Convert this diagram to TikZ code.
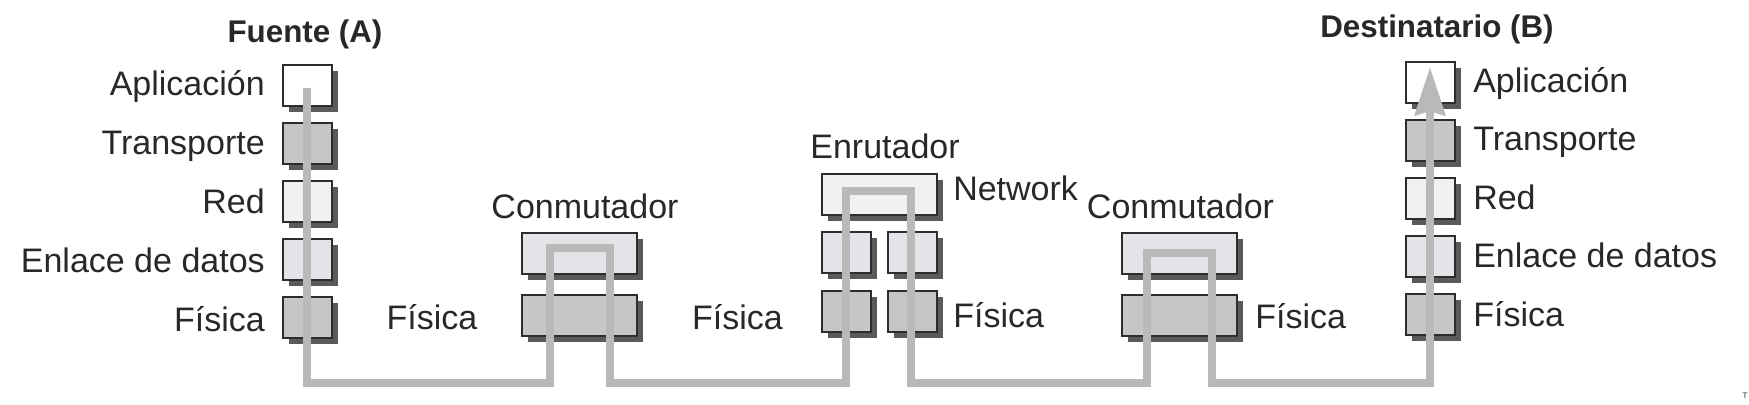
\documentclass[tikz,border=0pt]{standalone}
\usepackage{fontspec}
\setmainfont{Liberation Sans}
\usetikzlibrary{shadows,arrows.meta}
\definecolor{txtgray}{RGB}{40,40,40}
\definecolor{edgegray}{RGB}{45,45,45}
\definecolor{shadowgray}{RGB}{90,90,90}
\definecolor{linegray}{RGB}{185,185,185}
\definecolor{boxgray}{RGB}{198,198,198}
\definecolor{boxlight}{RGB}{228,228,232}
\definecolor{boxpale}{RGB}{241,241,244}

\begin{document}
\begin{tikzpicture}[x=0.75pt,y=0.75pt,yscale=-1,xscale=1,
    lbl/.style={inner sep=0pt, text=txtgray, font=\fontsize{25.5}{30}\selectfont},
    ttl/.style={inner sep=0pt, text=txtgray, font=\fontsize{23.5}{28}\selectfont\bfseries},
    layer/.style={draw=edgegray, line width=1.5pt, inner sep=0pt, minimum width=36.75pt, minimum height=30.75pt,
        drop shadow={shadow xshift=4.5pt, shadow yshift=-4.5pt, fill=shadowgray, opacity=1}},
    widelayer/.style={layer, minimum width=86.25pt},
    wire/.style={draw=linegray, line width=6pt}
    ]
    \useasboundingbox (0,0) rectangle (1749,404);

    % Fuente (A) stack
    \node [layer, fill=white]    (a-app) at (307.5,85) {};
    \node [layer, fill=boxgray]  (a-tra) at (307.5,143) {};
    \node [layer, fill=boxpale]  (a-red) at (307.5,201) {};
    \node [layer, fill=boxlight] (a-enl) at (307.5,259) {};
    \node [layer, fill=boxgray]  (a-fis) at (307.5,317) {};

    % Conmutador 1
    \node [widelayer, fill=boxlight] (sw1-top) at (579.5,253) {};
    \node [widelayer, fill=boxgray]  (sw1-bot) at (579.5,315) {};

    % Enrutador
    \node [widelayer, fill=boxpale] (r-top) at (879.5,194) {};
    \node [layer, fill=boxlight] (r-enl1) at (846.5,252) {};
    \node [layer, fill=boxlight] (r-enl2) at (912.5,252) {};
    \node [layer, fill=boxgray]  (r-fis1) at (846.5,311) {};
    \node [layer, fill=boxgray]  (r-fis2) at (912.5,311) {};

    % Conmutador 2
    \node [widelayer, fill=boxlight] (sw2-top) at (1179.5,253) {};
    \node [widelayer, fill=boxgray]  (sw2-bot) at (1179.5,315) {};

    % Destinatario (B) stack
    \node [layer, fill=white]    (b-app) at (1430.5,82.5) {};
    \node [layer, fill=boxgray]  (b-tra) at (1430.5,140.5) {};
    \node [layer, fill=boxpale]  (b-red) at (1430.5,198.5) {};
    \node [layer, fill=boxlight] (b-enl) at (1430.5,256.5) {};
    \node [layer, fill=boxgray]  (b-fis) at (1430.5,314.5) {};

    % path of the data
    \coordinate (start) at (307,88);
    \coordinate (bus) at (0,383);
    \coordinate (s1in) at (550,248);
    \coordinate (s1out) at (610,248);
    \coordinate (rin) at (846,191);
    \coordinate (rout) at (911,191);
    \coordinate (s2in) at (1147,253);
    \coordinate (s2out) at (1212,253);
    \coordinate (goal) at (1430,67);
    \draw [wire, -{Stealth[length=36pt, width=22.5pt, inset=3pt]}]
        (start) -- (start |- bus) -- (s1in |- bus) -- (s1in) -- (s1out) -- (s1out |- bus)
        -- (rin |- bus) -- (rin) -- (rout) -- (rout |- bus)
        -- (s2in |- bus) -- (s2in) -- (s2out) -- (s2out |- bus)
        -- (goal |- bus) -- (goal);

    % Text Node
    \node [ttl, anchor=base] (t-a) at (305,42) {Fuente (A)};
    % Text Node
    \node [ttl, anchor=base] (t-b) at (1437,37) {Destinatario (B)};

    % Text Node
    \node [lbl, anchor=base east] (la-app) at (265,95) {Aplicación};
    \node [lbl, anchor=base east] (la-tra) at (265,154) {Transporte};
    \node [lbl, anchor=base east] (la-red) at (265,213) {Red};
    \node [lbl, anchor=base east] (la-enl) at (265,272) {Enlace de datos};
    \node [lbl, anchor=base east] (la-fis) at (265,331) {Física};

    % Text Node
    \node [lbl, anchor=base west] (lb-app) at (1473,92) {Aplicación};
    \node [lbl, anchor=base west] (lb-tra) at (1473,150.5) {Transporte};
    \node [lbl, anchor=base west] (lb-red) at (1473,209) {Red};
    \node [lbl, anchor=base west] (lb-enl) at (1473,267.5) {Enlace de datos};
    \node [lbl, anchor=base west] (lb-fis) at (1473,326) {Física};

    % Text Node
    \node [lbl, anchor=base] (l-fis1) at (432,329) {Física};
    \node [lbl, anchor=base] (l-sw1) at (585,218) {Conmutador};
    \node [lbl, anchor=base] (l-fis2) at (737.5,329) {Física};
    \node [lbl, anchor=base] (l-rt) at (885,158) {Enrutador};
    \node [lbl, anchor=base west] (l-net) at (953,200) {Network};
    \node [lbl, anchor=base west] (l-fis3) at (953,327) {Física};
    \node [lbl, anchor=base] (l-sw2) at (1180.5,218) {Conmutador};
    \node [lbl, anchor=base west] (l-fis4) at (1255,328) {Física};

    % Text Node
    \node [inner sep=0pt, anchor=north, text=txtgray, font=\fontsize{6}{7}\selectfont] (l-t) at (1745,393) {T};
\end{tikzpicture}
\end{document}
